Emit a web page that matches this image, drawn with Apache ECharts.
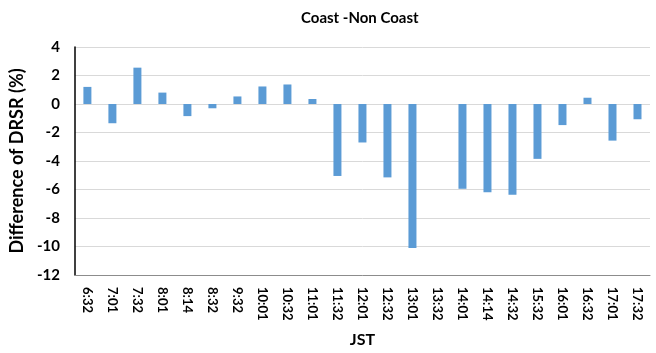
<!DOCTYPE html>
<html>
<head>
<meta charset="utf-8">
<script src="https://cdn.jsdelivr.net/npm/echarts@6/dist/echarts.min.js"></script>
<style>
  html, body { margin: 0; padding: 0; background: #fff; }
  #chart { width: 656px; height: 353px; }
</style>
</head>
<body>
<div id="chart"></div>
<script>
// Observation times (JST)
const times = ['6:32', '7:01', '7:32', '8:01', '8:14', '8:32', '9:32', '10:01', '10:32', '11:01',
  '11:32', '12:01', '12:32', '13:01', '13:32', '14:01', '14:14', '14:32', '15:32', '16:01',
  '16:32', '17:01', '17:32'];
// Coast minus non-coast difference of DRSR, in percent
const diffDRSR = [1.2, -1.35, 2.55, 0.8, -0.85, -0.3, 0.53, 1.23, 1.37, 0.35,
  -5.05, -2.7, -5.15, -10.1, null, -5.95, -6.2, -6.37, -3.85, -1.48,
  0.44, -2.57, -1.07];
// Value axis range and step
const yMin = -12, yMax = 4, yStep = 2;

const font = 'Lato, "Open Sans", sans-serif';
const chart = echarts.init(document.getElementById('chart'), null, { renderer: 'canvas' });
chart.setOption({
  animation: false,
  title: {
    text: 'Coast -Non Coast',
    left: 296, top: 6,
    textStyle: { fontFamily: font, fontSize: 15, fontWeight: 'bold', color: '#000' }
  },
  grid: { left: 74, right: 6, top: 47, bottom: 75, containLabel: false },
  xAxis: {
    type: 'category',
    data: times,
    name: 'JST',
    nameLocation: 'middle',
    nameGap: 57,
    nameTextStyle: { fontFamily: font, fontSize: 16, fontWeight: 'bold', color: '#000' },
    axisLine: { onZero: false, lineStyle: { color: '#8c8c8c', width: 1 } },
    axisTick: { show: false },
    axisLabel: {
      rotate: -90, margin: 12, interval: 0,
      fontFamily: font, fontSize: 13, fontWeight: 'bold', color: '#000'
    }
  },
  yAxis: {
    type: 'value',
    min: yMin, max: yMax, interval: yStep,
    name: 'Difference of DRSR (%)',
    nameLocation: 'middle',
    nameGap: 45,
    nameTextStyle: { fontFamily: font, fontSize: 18, fontWeight: 'bold', color: '#000' },
    axisLine: { show: true, lineStyle: { color: '#000', width: 1.5 } },
    axisTick: { show: false },
    axisLabel: { margin: 15, fontFamily: font, fontSize: 15, fontWeight: 'bold', color: '#000' },
    splitLine: { lineStyle: { color: '#d9d9d9', width: 1 } }
  },
  series: [{
    type: 'bar',
    data: diffDRSR,
    barWidth: 8,
    itemStyle: { color: '#5b9bd5' }
  }]
});
</script>
</body>
</html>
